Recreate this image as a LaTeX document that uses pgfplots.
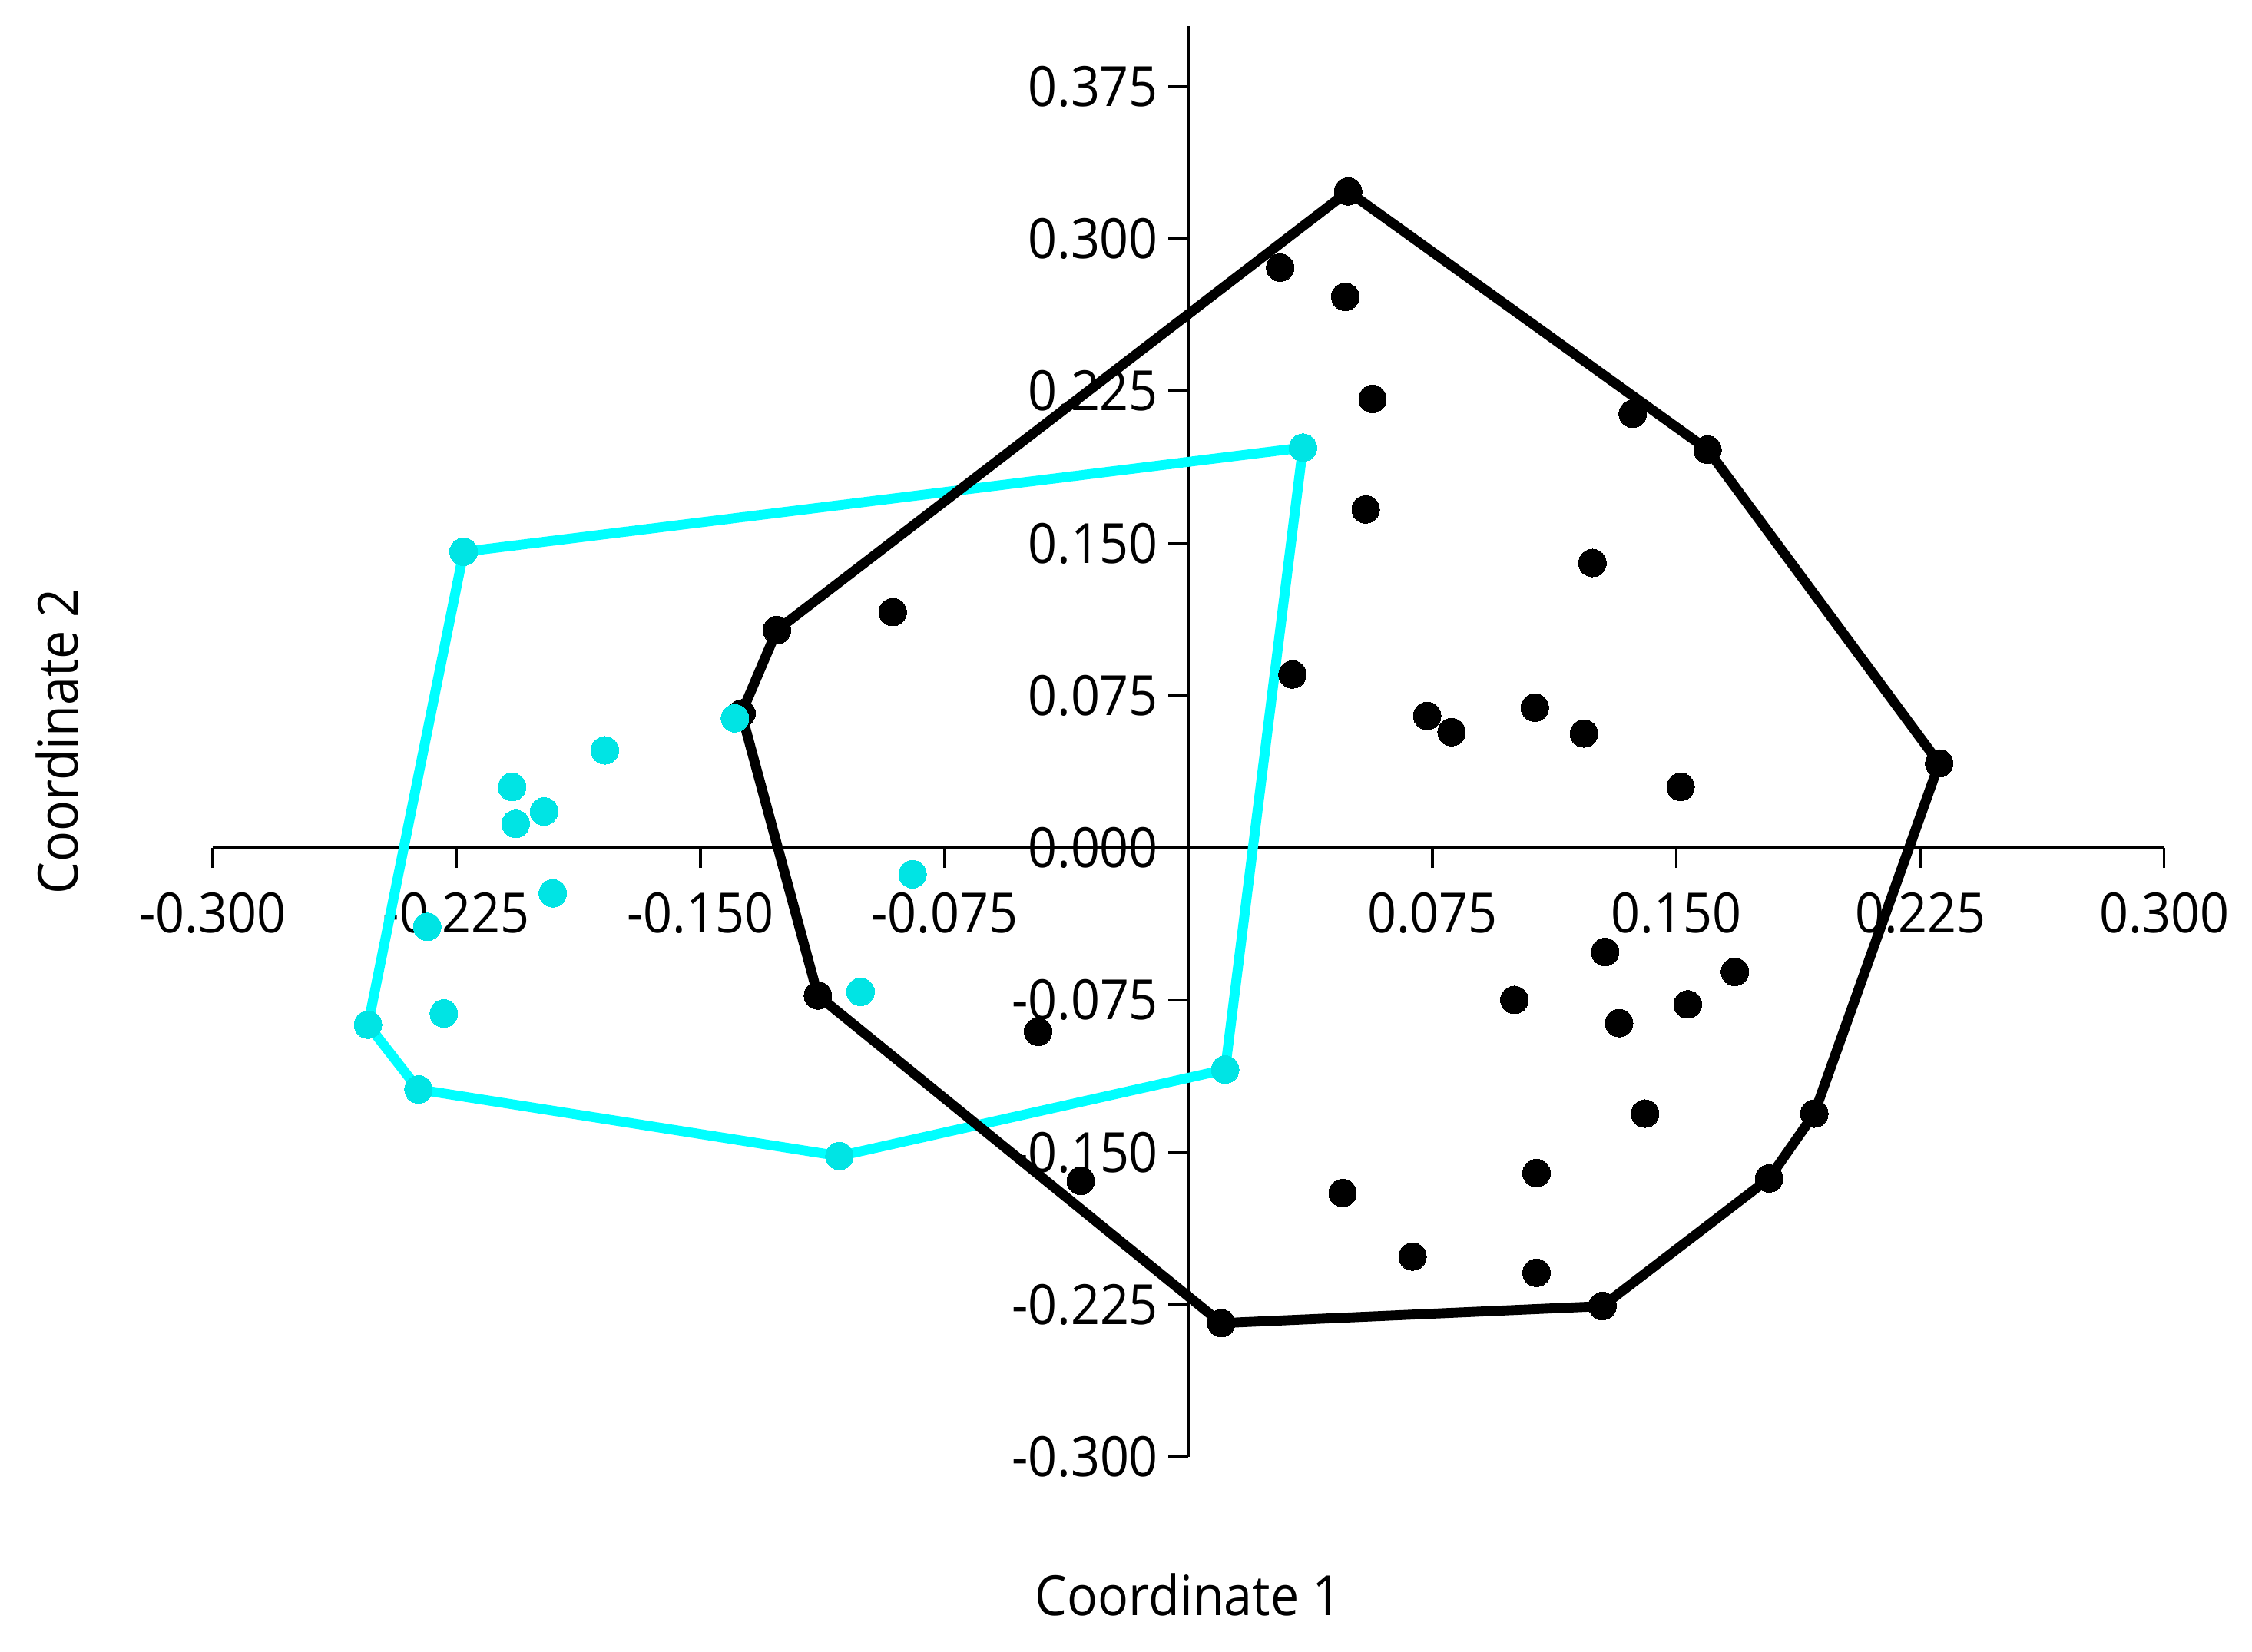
\documentclass[border=0pt]{standalone}
\usepackage{fontspec}
\setmainfont{Open Sans}[FakeStretch=0.92]
\usepackage{pgfplots}
\pgfplotsset{compat=1.18}
\definecolor{hullcyan}{RGB}{0,255,255}
\definecolor{dotcyan}{RGB}{0,228,228}
\newcommand{\lblfont}{\fontsize{11.2}{13}\selectfont}

\begin{document}
\begin{tikzpicture}
\begin{axis}[
  at={(0,0)}, anchor=south west,
  scale only axis, width=13.867cm, height=10.168cm,
  xmin=-0.3, xmax=0.3, ymin=-0.3, ymax=0.4048,
  axis lines=middle,
  axis line style={-, line width=0.5pt, black},
  tick align=outside,
  major tick length=0.143cm,
  every tick/.style={black, line width=0.5pt},
  xtick={-0.3,-0.225,-0.15,-0.075,0.075,0.15,0.225,0.3},
  ytick={-0.3,-0.225,-0.15,-0.075,0,0.075,0.15,0.225,0.3,0.375},
  hide obscured x ticks=false, hide obscured y ticks=false,
  scaled ticks=false,
  every tick label/.append style={font=\lblfont,
    /pgf/number format/fixed, /pgf/number format/fixed zerofill,
    /pgf/number format/precision=3, /pgf/number format/assume math mode=true},
  xticklabel style={anchor=base, inner sep=0pt, yshift=-0.46cm},
  yticklabel style={anchor=east, inner sep=0pt, xshift=-0.065cm},
  xlabel={Coordinate 1}, ylabel={Coordinate 2},
  every axis x label/.style={at={(rel axis cs:0.5,0)}, yshift=-1.128cm, anchor=base, font=\lblfont},
  every axis y label/.style={at={(rel axis cs:0,0.5)}, xshift=-0.955cm, rotate=90, anchor=base, font=\lblfont},
  clip=false,
]
% black group points
\addplot[black, only marks, mark=*, mark size=2.8pt, mark options={solid, line width=0pt}] coordinates {
(0.0491,0.3233) (0.1596,0.1961) (0.2308,0.0416) (0.1924,-0.1309) (0.1785,-0.1628)
(0.1273,-0.2257) (0.0101,-0.2341) (-0.1139,-0.0727) (-0.1374,0.0662) (-0.1265,0.1072)
(0.0282,0.2858) (0.0482,0.2714) (0.0566,0.2211) (0.1366,0.2138) (0.0545,0.1667)
(0.1242,0.1403) (-0.0909,0.1161) (0.0320,0.0854) (0.0734,0.0650) (0.0809,0.0570)
(0.1065,0.0690) (0.1216,0.0563) (0.1513,0.0300) (0.1281,-0.0513) (0.1680,-0.0611)
(0.1002,-0.0749) (0.1535,-0.0771) (0.1324,-0.0863) (-0.0462,-0.0906) (0.1404,-0.1309)
(-0.0331,-0.1640) (0.0474,-0.1700) (0.1070,-0.1602) (0.0689,-0.2013) (0.1070,-0.2093)
};
% cyan group points
\addplot[dotcyan, only marks, mark=*, mark size=2.8pt, mark options={solid, line width=0pt}] coordinates {
(0.0352,0.1971) (0.0113,-0.1092) (-0.1073,-0.1518) (-0.2367,-0.1190) (-0.2522,-0.0871)
(-0.2228,0.1458) (-0.1394,0.0638) (-0.1794,0.0480) (-0.2079,0.0300) (-0.1981,0.0179)
(-0.2068,0.0118) (-0.1954,-0.0224) (-0.0848,-0.0130) (-0.2340,-0.0389) (-0.2289,-0.0816)
(-0.1008,-0.0709)
};
% cyan hull
\addplot[hullcyan, line width=2pt, line join=round, line cap=round, no markers] coordinates {
(0.0352,0.1971) (0.0113,-0.1092) (-0.1073,-0.1518) (-0.2367,-0.1190) (-0.2522,-0.0871)
(-0.2228,0.1458) (0.0352,0.1971)
};
% black hull
\addplot[black, line width=2pt, line join=round, line cap=round, no markers] coordinates {
(0.0491,0.3233) (0.1596,0.1961) (0.2308,0.0416) (0.1924,-0.1309) (0.1785,-0.1628)
(0.1273,-0.2257) (0.0101,-0.2341) (-0.1139,-0.0727) (-0.1374,0.0662) (-0.1265,0.1072)
(0.0491,0.3233)
};
\end{axis}
\pgfresetboundingbox
\path[use as bounding box] (-1.510,-1.383) rectangle (14.490,10.352);
\end{tikzpicture}
\end{document}
